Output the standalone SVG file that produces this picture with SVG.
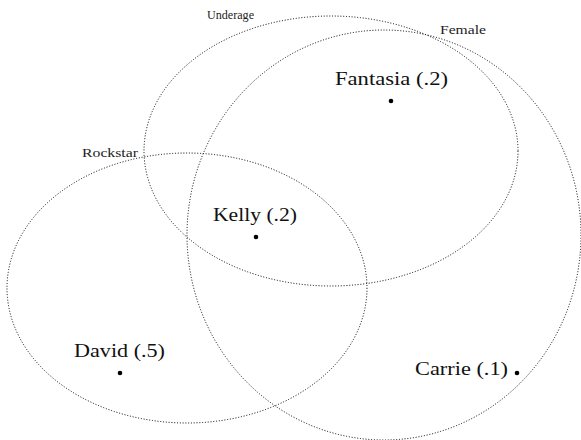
<svg xmlns="http://www.w3.org/2000/svg" width="581" height="440" viewBox="0 0 581 440">
<style>
.set{fill:none;stroke:#000;stroke-width:1;stroke-dasharray:1 1.8}
.small{font-family:"Liberation Serif",serif;font-size:11.5px;fill:#222}
.lbl{font-family:"Liberation Serif",serif;font-size:18.5px;fill:#111}
.dot{fill:#000}
</style>
<rect width="581" height="440" fill="#fff"/>
<g id="connectors"></g>
<g id="underage"><ellipse class="set" cx="331" cy="151" rx="187" ry="135"/><text class="small" x="207" y="19" textLength="47" lengthAdjust="spacingAndGlyphs">Underage</text></g>
<g id="female"><ellipse class="set" cx="384" cy="235" rx="197" ry="205"/><text class="small" x="440" y="34" textLength="46" lengthAdjust="spacingAndGlyphs">Female</text></g>
<g id="rockstar"><ellipse class="set" cx="187" cy="288" rx="180" ry="135"/><text class="small" x="82" y="157" textLength="56" lengthAdjust="spacingAndGlyphs">Rockstar</text></g>
<g id="fantasia"><circle class="dot" cx="391" cy="101" r="2.3"/><text class="lbl" x="335" y="85" textLength="113" lengthAdjust="spacingAndGlyphs">Fantasia (.2)</text></g>
<g id="kelly"><circle class="dot" cx="256" cy="237" r="2.3"/><text class="lbl" x="213" y="221" textLength="84" lengthAdjust="spacingAndGlyphs">Kelly (.2)</text></g>
<g id="david"><circle class="dot" cx="120" cy="373" r="2.3"/><text class="lbl" x="74" y="357" textLength="91" lengthAdjust="spacingAndGlyphs">David (.5)</text></g>
<g id="carrie"><circle class="dot" cx="517" cy="373" r="2.3"/><text class="lbl" x="415" y="375" textLength="93" lengthAdjust="spacingAndGlyphs">Carrie (.1)</text></g>
</svg>
